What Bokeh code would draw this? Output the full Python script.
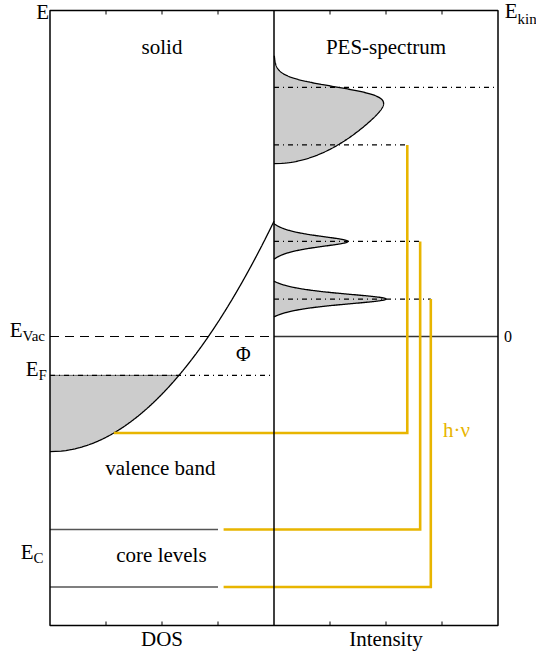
import numpy as np
from bokeh.plotting import figure
from bokeh.models import Range1d
from bokeh.core.properties import value
from bokeh.embed import file_html
from bokeh.resources import INLINE

# ---- energy levels (arbitrary energy units, vacuum level at 0) ----
E_VAC = 0.0
PHI = 1.35                       # work function
E_F = E_VAC - PHI                # Fermi level
E_VB_BOTTOM = -4.0               # bottom of the valence band
E_VB_TOP = 4.0                   # top of the drawn DOS parabola
HV = 10.0                        # photon energy
CORE_LEVELS = [-6.7, -8.7]       # core-level energies
CORE_PEAK_HEIGHTS = [1.32, 2.0]  # PES intensity of the core-level lines
CORE_PEAK_WIDTH = 0.27           # Lorentzian half width
CORE_PEAK_RANGE = 0.62           # half range over which a core line is drawn
E_VB_EXCITED = -3.35             # valence-band state whose excitation is traced
DOS_SCALE = 2.0                  # DOS = sqrt(DOS_SCALE * (E - E_VB_BOTTOM))
KT = 0.18                        # thermal broadening of the Fermi edge
VB_PEAK_SCALE = 1.0

# ---- axes ----
PANEL_W = 4.0                    # each panel spans 0..4 on its own axis
PANEL_TICKS = [1, 2, 3]
Y_BOT, Y_TOP = -10.035, 11.319   # energy span of the panels

# ---- layout of the excitation paths ----
PATH_X = [2.38, 2.61, 2.80]      # intensity position of the vertical h·ν legs
CORE_BAR_END = 3.0               # length of the core-level bars (DOS panel)
CORE_PATH_START = 3.1

FONT = "Liberation Serif"
GOLD = "#e8b500"
FILL = "#cccccc"
DASHDOT = "5 4 1 4"

# canvas and frame geometry (pixels)
W, H = 536, 655
BOX_L, BOX_R, BOX_T, BOX_B = 49.5, 497.5, 10.0, 625.0
X_PER_PX = 2 * PANEL_W / (BOX_R - BOX_L)
Y_PER_PX = (Y_TOP - Y_BOT) / (BOX_B - BOX_T)
TICK_LEN = 4                     # px

X_OFF = PANEL_W                  # the spectrum panel sits right of the DOS panel
X_END = 2 * PANEL_W

p = figure(width=W, height=H,
           x_range=Range1d(-BOX_L * X_PER_PX, X_END + (W - BOX_R) * X_PER_PX),
           y_range=Range1d(Y_BOT - (H - BOX_B) * Y_PER_PX, Y_TOP + BOX_T * Y_PER_PX),
           x_axis_location=None, y_axis_location=None,
           toolbar_location=None, output_backend="svg",
           min_border=0)
p.grid.visible = False
p.outline_line_color = None
p.background_fill_color = "white"
p.border_fill_color = "white"


def dos(E):
    return np.sqrt(np.clip(DOS_SCALE * (np.asarray(E) - E_VB_BOTTOM), 0, None))


def fermi(E, mu):
    return 1.0 / (1.0 + np.exp((E - mu) / KT))


def core_line(E, Ec, height):
    lor = 1.0 / (1.0 + ((E - Ec) / CORE_PEAK_WIDTH) ** 2)
    edge = 1.0 / (1.0 + (CORE_PEAK_RANGE / CORE_PEAK_WIDTH) ** 2)
    return height * np.clip(lor - edge, 0, None) / (1 - edge)


# ---- DOS panel: occupied valence band ----
E_occ = np.linspace(E_VB_BOTTOM, E_F, 200)
p.harea(y=E_occ, x1=np.zeros_like(E_occ), x2=dos(E_occ), fill_color=FILL)
E_band = np.linspace(E_VB_BOTTOM, E_VB_TOP, 400)
p.line(dos(E_band), E_band, line_color="black", line_width=1.3)

# Fermi level
p.line([0, float(dos(E_F))], [E_F, E_F], line_color="#666666", line_width=1)
p.line([0, PANEL_W - 0.05], [E_F, E_F], line_color="black", line_width=1.2, line_dash=DASHDOT)

# vacuum level / zero of kinetic energy
p.line([0, PANEL_W], [E_VAC, E_VAC], line_color="black", line_width=1.2, line_dash="9 6")
p.line([X_OFF, X_END], [E_VAC, E_VAC], line_color="#333333", line_width=1.3)

# core levels
for Ec in CORE_LEVELS:
    p.line([0, CORE_BAR_END], [Ec, Ec], line_color="#555555", line_width=1.6)

# ---- PES spectrum ----
E_vb_spec = np.linspace(HV + E_VB_BOTTOM, HV + E_F + 1.1, 400)
I_vb = VB_PEAK_SCALE * dos(E_vb_spec - HV) * fermi(E_vb_spec, HV + E_F)
p.harea(y=E_vb_spec, x1=np.full_like(E_vb_spec, X_OFF), x2=X_OFF + I_vb, fill_color=FILL)
p.line(X_OFF + I_vb, E_vb_spec, line_color="black", line_width=1.3)

for Ec, h in zip(CORE_LEVELS, CORE_PEAK_HEIGHTS):
    Ek = np.linspace(Ec + HV - CORE_PEAK_RANGE, Ec + HV + CORE_PEAK_RANGE, 301)
    I = core_line(Ek, Ec + HV, h)
    p.harea(y=Ek, x1=np.full_like(Ek, X_OFF), x2=X_OFF + I, fill_color=FILL)
    p.line(X_OFF + I, Ek, line_color="black", line_width=1.3)

# dash-dotted guides at the kinetic energies
p.line([X_OFF, X_END], [E_F + HV, E_F + HV], line_color="black", line_width=1.2, line_dash=DASHDOT)
starts = [E_VB_EXCITED] + CORE_LEVELS
for lvl, px in zip(starts, PATH_X):
    p.line([X_OFF, X_OFF + px], [lvl + HV, lvl + HV], line_color="black", line_width=1.2,
           line_dash=DASHDOT)

# ---- excitation paths (h·ν) ----
x_starts = [float(dos(E_VB_EXCITED)), CORE_PATH_START, CORE_PATH_START]
for lvl, x0, px in zip(starts, x_starts, PATH_X):
    p.line([x0, X_OFF + px, X_OFF + px], [lvl, lvl, lvl + HV],
           line_color=GOLD, line_width=2.6, line_join="miter")

# ---- panel frame, divider and ticks ----
p.quad(left=[0], right=[X_END], bottom=[Y_BOT], top=[Y_TOP],
       fill_color=None, line_color="black", line_width=1.5)
p.line([PANEL_W, PANEL_W], [Y_BOT, Y_TOP], line_color="black", line_width=1.5)
ticks = PANEL_TICKS + [t + X_OFF for t in PANEL_TICKS]
tick_dy = TICK_LEN * Y_PER_PX
p.segment(x0=ticks, x1=ticks, y0=[Y_TOP] * len(ticks), y1=[Y_TOP - tick_dy] * len(ticks),
          line_color="black", line_width=1)
p.segment(x0=ticks, x1=ticks, y0=[Y_BOT] * len(ticks), y1=[Y_BOT + tick_dy] * len(ticks),
          line_color="black", line_width=1)


# ---- texts ----
def txt(x, y, s, size=21, color="black", align="center", dx=0, dy=0):
    # y is the text baseline; the glyph is anchored at its middle, lifted by ~0.34 em
    p.text(x=[x], y=[y], text=[s], text_font=value(FONT), text_font_size=f"{size}px",
           text_color=color, text_align=align, text_baseline="middle",
           x_offset=dx, y_offset=dy - 0.34 * size)


txt(PANEL_W / 2, 9.79, "solid")
txt(X_OFF + PANEL_W / 2, 9.79, "PES-spectrum")
txt(1.97, -4.83, "valence band")
txt(1.99, -7.85, "core levels")
txt(3.45, -0.83, "Φ", size=20)
txt(X_OFF + 3.26, -3.51, "h·ν", size=21, color=GOLD)

# axis titles below the panels
txt(PANEL_TICKS[1], Y_BOT, "DOS", dy=21)
txt(X_OFF + PANEL_TICKS[1], Y_BOT, "Intensity", dy=21)

# energy axis names
txt(0, Y_TOP, "E", size=21, align="right", dx=-1, dy=9)
txt(X_END, Y_TOP, "E", size=21, align="right", dx=19.5, dy=8)
txt(X_END, Y_TOP, "kin", size=15, align="left", dx=19.5, dy=13.5)

# level names
txt(0, E_VAC, "E", size=21, align="right", dx=-27.5, dy=1)
txt(0, E_VAC, "Vac", size=15, align="left", dx=-27.5, dy=4.5)
txt(0, E_F, "E", size=21, align="right", dx=-11.5, dy=1)
txt(0, E_F, "F", size=15, align="left", dx=-11.5, dy=5)
E_C_MID = sum(CORE_LEVELS) / len(CORE_LEVELS)
txt(0, E_C_MID, "E", size=21, align="right", dx=-16.5, dy=1.2)
txt(0, E_C_MID, "C", size=15, align="left", dx=-16.5, dy=4.7)
txt(X_END, E_VAC, "0", size=16, align="left", dx=6, dy=5)

open("out.html", "w").write(file_html(p, INLINE))
